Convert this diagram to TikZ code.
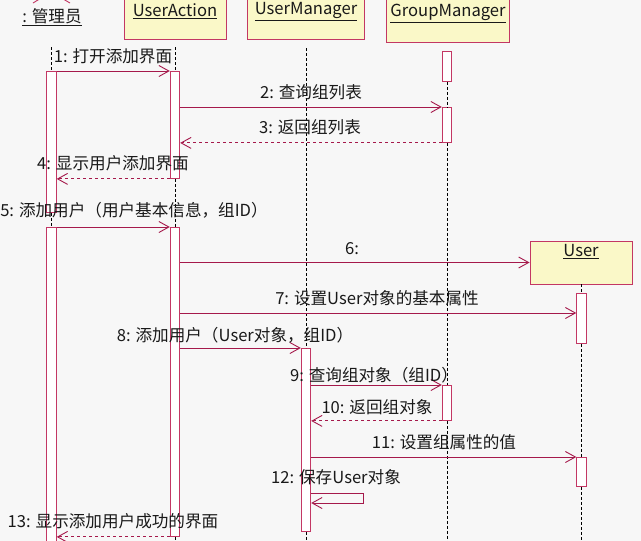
\documentclass[tikz,border=0pt]{standalone}
\usepackage{fontspec}
\setmainfont{Noto Sans CJK SC}
\usetikzlibrary{arrows.meta}
\definecolor{bg}{RGB}{247,247,247}
\definecolor{boxfill}{RGB}{250,248,200}
\definecolor{edge}{RGB}{195,55,100}
\definecolor{msgc}{RGB}{165,25,75}
\begin{document}
\begin{tikzpicture}[x=1pt,y=-1pt,
  obj/.style={draw=edge, fill=boxfill, line width=0.9pt, inner sep=0pt},
  act/.style={draw=edge, fill=white, line width=0.9pt, minimum width=9.5pt, inner sep=0pt, anchor=north},
  life/.style={black, line width=0.7pt, dash pattern=on 3pt off 2pt},
  msg/.style={msgc, line width=0.9pt, -{Straight Barb[length=10pt,width=11pt]}},
  ret/.style={msg, dash pattern=on 3pt off 3pt},
  lbl/.style={font=\fontsize{16.6}{19}\selectfont, inner sep=0pt, text=black!90},
]
\fill[bg] (0,0) rectangle (641,541);
\clip (0,0) rectangle (641,541);

% actor
\draw[edge, line width=0.9pt] (51,-8) -- (33,3) (51,-8) -- (70,3);
\node[lbl] (actor) at (52,17) {\underline{: 管理员}};

% object boxes
\node[obj, minimum width=102pt, minimum height=60pt, anchor=south] (ua) at (175,40) {};
\node[lbl] (uat) at (175,11) {\underline{UserAction}};
\node[obj, minimum width=117pt, minimum height=60pt, anchor=south] (um) at (305.5,40) {};
\node[lbl] (umt) at (306,11.5) {\underline{UserManager}};
\node[obj, minimum width=123pt, minimum height=60pt, anchor=south] (gm) at (447.5,43) {};
\node[lbl] (gmt) at (448,13.5) {\underline{GroupManager}};
\node[obj, minimum width=102pt, minimum height=43pt] (user) at (581,262.5) {};
\node[lbl] (usert) at (581,252) {\underline{User}};

% activation bars
\node[act, minimum height=141pt] (a1) at (51.5,71) {};
\node[act, minimum height=330pt] (a2) at (51.5,227) {};
\node[act, minimum height=107pt] (ua1) at (175,71) {};
\node[act, minimum height=309pt] (ua2) at (175,227) {};
\node[act, minimum height=183pt] (um1) at (306,348) {};
\node[act, minimum height=30pt] (gm1) at (447,51) {};
\node[act, minimum height=35pt] (gm2) at (447,107) {};
\node[act, minimum height=35pt] (gm3) at (447,385) {};
\node[act, minimum height=50pt] (us1) at (581.5,293) {};
\node[act, minimum height=29pt] (us2) at (581.5,457) {};

% lifelines
\draw[life] (a1.north |- 0,47) -- (a1.north);
\draw[life] (a1.south) -- (a2.north);
\draw[life] (ua1.north |- 0,47) -- (ua1.north);
\draw[life] (ua1.south) -- (ua2.north);
\draw[life] (ua2.south) -- (ua2.south |- 0,545);
\draw[life] (um1.north |- 0,48) -- (um1.north);
\draw[life] (um1.south) -- (um1.south |- 0,545);
\draw[life] (gm1.south) -- (gm2.north);
\draw[life] (gm2.south) -- (gm3.north);
\draw[life] (gm3.south) -- (gm3.south |- 0,545);
\draw[life] (user.south -| us1.north) -- (us1.north);
\draw[life] (us1.south) -- (us2.north);
\draw[life] (us2.south) -- (us2.south |- 0,545);

% messages
\draw[msg] (a1.north east) -- (ua1.north west);
\node[lbl] (m1) at (113,56) {1: 打开添加界面};
\draw[msg] (ua1.east |- gm2.north) -- (gm2.north west);
\node[lbl] (m2) at (311,92) {2: 查询组列表};
\draw[ret] (gm2.south west) -- (ua1.east |- gm2.south);
\node[lbl] (m3) at (310,127) {3: 返回组列表};
\draw[ret] (ua1.south west) -- (a1.east |- ua1.south);
\node[lbl] (m4) at (113,163) {4: 显示用户添加界面};
\draw[msg] (a2.north east) -- (ua2.north west);
\node[lbl] (m5) at (134,210) {5: 添加用户（用户基本信息，组ID）};
\draw[msg] (ua2.east |- user.west) -- (user.west);
\node[lbl] (m6) at (352,249) {6:};
\draw[msg] (ua2.east |- 0,313) -- (us1.west |- 0,313);
\node[lbl] (m7) at (377,298) {7: 设置User对象的基本属性};
\draw[msg] (ua2.east |- um1.north) -- (um1.north west);
\node[lbl] (m8) at (235,335) {8: 添加用户（User对象，组ID）};
\draw[msg] (um1.east |- gm3.north) -- (gm3.north west);
\node[lbl] (m9) at (374,375) {9: 查询组对象（组ID）};
\draw[ret] (gm3.south west) -- (um1.east |- gm3.south);
\node[lbl] (m10) at (377,407) {10: 返回组对象};
\draw[msg] (um1.east |- us2.north) -- (us2.north west);
\node[lbl] (m11) at (444,442) {11: 设置组属性的值};
\draw[msg] (um1.east |- 0,493) -- ++(52,0) -- ++(0,10) -- (um1.east |- 0,503);
\node[lbl] (m12) at (336,477) {12: 保存User对象};
\draw[ret] (ua2.south west) -- (a2.east |- ua2.south);
\node[lbl] (m13) at (113,521) {13: 显示添加用户成功的界面};
\end{tikzpicture}
\end{document}
